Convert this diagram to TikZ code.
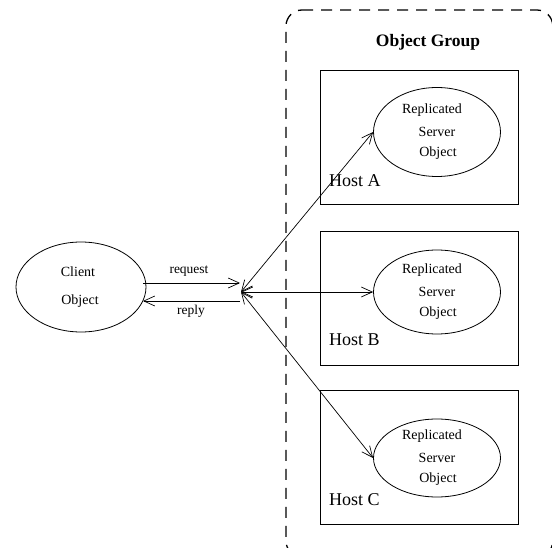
\documentclass[tikz,border=0pt]{standalone}
\usepackage{fontspec}
\setmainfont{Liberation Serif}
\usetikzlibrary{arrows.meta,shapes.geometric}
\begin{document}
\begin{tikzpicture}[x=1pt,y=-1pt,
  obj/.style={draw,ellipse,line width=0.8pt,inner sep=0pt},
  hostbox/.style={draw,line width=0.8pt,inner sep=0pt},
  txt/.style={inner sep=0pt,font=\fontsize{14}{16}\selectfont},
  hosttxt/.style={inner sep=0pt,anchor=west,font=\fontsize{18}{20}\selectfont},
  lbl/.style={inner sep=0pt,font=\fontsize{13.5}{15}\selectfont},
  conn/.style={line width=0.7pt,{Straight Barb[length=11pt,width=10pt]}-{Straight Barb[length=11pt,width=10pt]}},
  oneway/.style={line width=0.7pt,-{Straight Barb[length=11pt,width=10pt]}}]
\useasboundingbox (0,0) rectangle (552,548);
% group
\draw[line width=1.3pt,dash pattern=on 11pt off 8pt,rounded corners=16pt] (286,10) -- (552.8,10) -- (552.8,557) -- (286,557) -- cycle;
\node[inner sep=0pt,font=\bfseries\fontsize{17.5}{20}\selectfont] (grp) at (428,42) {Object Group};
% hosts
\node[hostbox,minimum width=198pt,minimum height=134pt] (hA) at (419,137) {};
\node[hostbox,minimum width=198pt,minimum height=134pt] (hB) at (419,298) {};
\node[hostbox,minimum width=198pt,minimum height=134pt] (hC) at (419,457) {};
\node[hosttxt] (tA) at (329,181) {Host A};
\node[hosttxt] (tB) at (329,340) {Host B};
\node[hosttxt] (tC) at (329,500) {Host C};
% servers
\node[obj,minimum width=127pt,minimum height=89pt] (sA) at (437,132) {};
\node[obj,minimum width=127pt,minimum height=84pt] (sB) at (437,292) {};
\node[obj,minimum width=127pt,minimum height=78pt] (sC) at (437,458) {};
\foreach \s/\y in {A/132,B/292,C/458}{
  \node[txt] (r\s) at (432,\y-22) {Replicated};
  \node[txt] (v\s) at (437,\y) {Server};
  \node[txt] (o\s) at (438,\y+21) {Object};
}
% client
\node[obj,minimum width=130pt,minimum height=90pt] (cl) at (81,287) {};
\node[txt] (c1) at (78,272) {Client};
\node[txt] (c2) at (80,301) {Object};
% junction
\coordinate (j) at (241,292);
\coordinate (rq0) at (143,283);
\coordinate (rq1) at (240,283);
\coordinate (rp0) at (240,301);
\coordinate (rp1) at (143,301);
\draw[oneway] (rq0) -- (rq1);
\draw[oneway] (rp0) -- (rp1);
\node[lbl] (lrq) at (189,271) {request};
\node[lbl] (lrp) at (191,311) {reply};
\draw[conn] (j) -- (sA.west);
\draw[conn] (j) -- (sB.west);
\draw[conn] (j) -- (sC.west);
\end{tikzpicture}
\end{document}
